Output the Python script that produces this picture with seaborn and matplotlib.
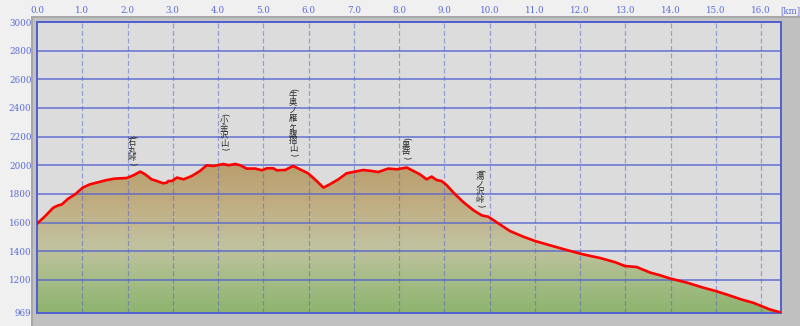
import matplotlib
matplotlib.use("Agg")
import matplotlib.pyplot as plt
import numpy as np
import pandas as pd
import seaborn as sns
from matplotlib.colors import LinearSegmentedColormap
from matplotlib.patches import Rectangle, Polygon

# ---- data ----
dist_km = [0.00, 0.18, 0.36, 0.47, 0.55, 0.69, 0.84, 1.01, 1.17, 1.32, 1.54, 1.72, 1.98,
           2.13, 2.28, 2.39, 2.53, 2.65, 2.79, 2.87, 2.90, 2.98, 3.09, 3.24, 3.42, 3.60,
           3.75, 3.90, 4.12, 4.23, 4.38, 4.49, 4.63, 4.82, 4.97, 5.08, 5.22, 5.30, 5.48,
           5.66, 5.81, 5.99, 6.14, 6.33, 6.47, 6.66, 6.84, 7.03, 7.21, 7.40, 7.54, 7.76,
           7.95, 8.17, 8.32, 8.46, 8.61, 8.72, 8.83, 8.94, 9.05, 9.24, 9.42, 9.64, 9.83,
           9.97, 10.23, 10.45, 10.75, 11.01, 11.34, 11.71, 12.07, 12.44, 12.77, 12.99,
           13.25, 13.55, 13.77, 14.00, 14.36, 14.72, 15.00, 15.24, 15.57, 15.83, 16.01,
           16.20, 16.44]
elev_m = [1592, 1645, 1704, 1720, 1727, 1767, 1797, 1844, 1867, 1879, 1897, 1907, 1911,
          1930, 1956, 1937, 1902, 1890, 1874, 1879, 1890, 1890, 1914, 1902, 1925, 1960,
          2000, 1995, 2009, 2000, 2009, 2000, 1977, 1977, 1965, 1979, 1979, 1965, 1967,
          1995, 1972, 1944, 1902, 1844, 1867, 1902, 1944, 1956, 1967, 1960, 1953, 1977,
          1972, 1984, 1960, 1937, 1902, 1921, 1897, 1890, 1862, 1797, 1743, 1687, 1650,
          1641, 1587, 1541, 1501, 1471, 1441, 1408, 1378, 1353, 1324, 1297,
          1290, 1251, 1232, 1209, 1181, 1146, 1122, 1098, 1063, 1040, 1017,
          993, 972]

peak_names = ["石丸峠", "小金沢山", "牛奥ノ雁ヶ腹摺山", "黒岳", "湯ノ沢峠"]
peak_km = [2.10, 4.13, 5.66, 8.15, 9.79]
peak_label_top = [2217, 2371, 2545, 2203, 1979]

x_ticks = [0.0, 1.0, 2.0, 3.0, 4.0, 5.0, 6.0, 7.0, 8.0, 9.0, 10.0, 11.0, 12.0, 13.0, 14.0, 15.0, 16.0]
y_ticks = [969, 1200, 1400, 1600, 1800, 2000, 2200, 2400, 2600, 2800, 3000]

df = pd.DataFrame({"km": dist_km, "elev": elev_m})

# ---- style ----
sns.set_style("white")
plt.rcParams["font.family"] = ["Noto Sans CJK JP", "DejaVu Sans"]

W, H = 800, 326
fig = plt.figure(figsize=(W / 100, H / 100), dpi=100, facecolor="#f0f0f0")

# gray frame (shadow)
fig.patches.append(Rectangle((31 / W, 0), 1 - 31 / W, (H - 16) / H, transform=fig.transFigure,
                             facecolor="#c0c0c0", edgecolor="none", zorder=-10))
fig.patches.append(Rectangle((31 / W, 0), 2 / W, (H - 16) / H, transform=fig.transFigure,
                             facecolor="#a8a8a8", edgecolor="none", zorder=-9))
fig.patches.append(Rectangle((31 / W, (H - 18) / H), 1 - 31 / W, 2 / H, transform=fig.transFigure,
                             facecolor="#a8a8a8", edgecolor="none", zorder=-9))

ax = fig.add_axes([37 / W, (H - 313) / H, (781 - 37) / W, (313 - 22) / H])
ax.set_zorder(1)
ax.set_facecolor("#dcdcdc")

xmax = dist_km[-1]
ymin = y_ticks[0]

# gradient fill clipped to the terrain
cmap = LinearSegmentedColormap.from_list(
    "terrain_grad",
    [(0.0, "#8db46e"), (0.2, "#a3bb84"), (0.45, "#c2c2a0"), (0.75, "#c0ac80"), (1.0, "#b99e6e")])
grad = np.linspace(0, 1, 256).reshape(-1, 1)
im = ax.imshow(grad, extent=[0, xmax, ymin, 2010], origin="lower", aspect="auto",
               cmap=cmap, zorder=1)
verts = list(zip(dist_km, elev_m)) + [(xmax, ymin), (0, ymin)]
clip = Polygon(verts, closed=True, transform=ax.transData, facecolor="none", edgecolor="none")
ax.add_patch(clip)
im.set_clip_path(clip)
ax.set_xlim(0, xmax)
ax.set_ylim(ymin, 3000)

# grid
grid_col = "#5060d0"
for yv in y_ticks[1:]:
    ax.axhline(yv, color=grid_col, lw=1.1, alpha=0.85, zorder=2)
for xv in x_ticks[1:]:
    ax.axvline(xv, color=grid_col, lw=0.9, alpha=0.5, ls=(0, (4, 2)), zorder=2)

sns.lineplot(data=df, x="km", y="elev", ax=ax, color="#ff0000", lw=1.9, zorder=4)

# vertical labels: upright characters stacked, parentheses turned sideways
PITCH = 5.45  # points per character
PAREN = 3.2   # points per parenthesis
lab_col = "#2a2a2a"
for name, xk, yt in zip(peak_names, peak_km, peak_label_top):
    ax.annotate("(", xy=(xk, yt), xytext=(0, -PAREN / 2), textcoords="offset points",
                ha="center", va="center", rotation=-90, fontsize=6.2,
                color=lab_col, zorder=5, family="DejaVu Sans")
    for i, ch in enumerate(name):
        ax.annotate(ch, xy=(xk, yt), xytext=(0, -(PAREN + (i + 0.5) * PITCH)),
                    textcoords="offset points", ha="center", va="center",
                    fontsize=6.0, color=lab_col, zorder=5)
    ax.annotate(")", xy=(xk, yt), xytext=(0, -(PAREN + len(name) * PITCH + PAREN / 2)),
                textcoords="offset points", ha="center", va="center", rotation=-90,
                fontsize=6.2, color=lab_col, zorder=5, family="DejaVu Sans")

# axes decorations
for s in ax.spines.values():
    s.set_color("#5060d0")
    s.set_linewidth(1.4)

tick_col = "#5a6ad8"
ax.xaxis.tick_top()
ax.set_xticks(x_ticks)
ax.set_xticklabels([f"{v:.1f}" for v in x_ticks], fontsize=6.3, color=tick_col,
                   family="DejaVu Serif")
ax.set_yticks(y_ticks)
ax.set_yticklabels([str(v) for v in y_ticks], fontsize=6.3, color=tick_col,
                   family="DejaVu Serif")
ax.tick_params(axis="both", length=0, pad=4)
ax.tick_params(axis="x", pad=5)
ax.set_xlabel("")
ax.set_ylabel("")
fig.text(790 / W, (H - 11) / H, "[km]", ha="center", va="center", fontsize=6.2,
         color=tick_col, family="DejaVu Serif")

fig.savefig("out.png", dpi=100, facecolor=fig.get_facecolor())
